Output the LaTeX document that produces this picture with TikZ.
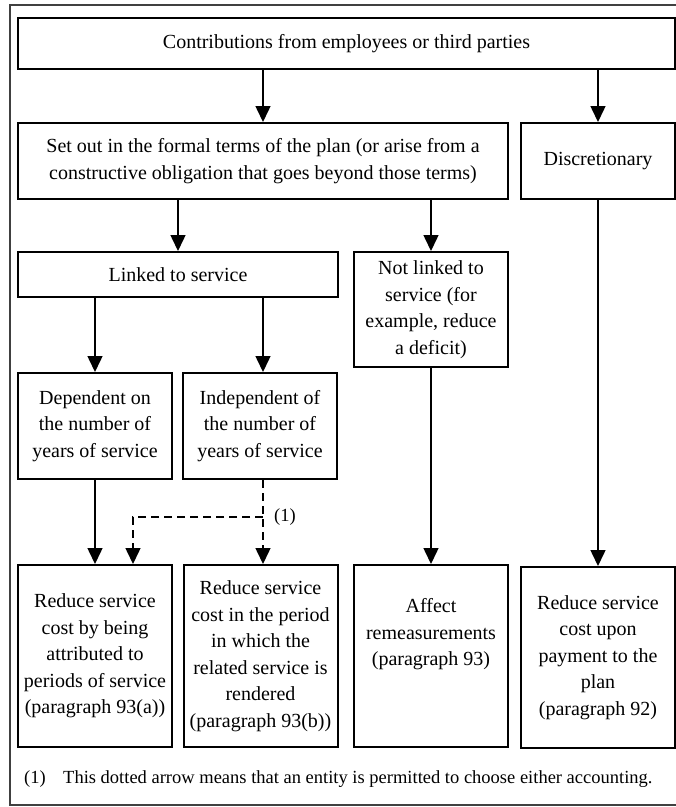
\documentclass[tikz,border=0pt]{standalone}
\usepackage{fontspec}
\setmainfont{Liberation Serif}
\usetikzlibrary{arrows.meta}
\begin{document}
\begin{tikzpicture}[x=1pt,y=-1pt,
  box/.style={draw, line width=2pt, align=center, inner sep=0pt,
    font={\fontsize{20}{26.5}\selectfont}},
  txt/.style={align=center, inner sep=0pt, font={\fontsize{20}{26.5}\selectfont}},
  small/.style={inner sep=0pt, font={\fontsize{18.5}{22}\selectfont}},
  arr/.style={line width=1.5pt, -{Triangle[width=15pt,length=16pt]}},
  dasharr/.style={arr, dash pattern=on 8pt off 5pt},
  frame/.style={line width=1.5pt, draw=black!75}]
\useasboundingbox (0,0) rectangle (676,807);
\draw[frame] (678,5) -- (10,5) -- (10,805) -- (678,805);

\node[box, minimum width=657pt, minimum height=51pt] (top) at (346.5,43.5)
  {Contributions from employees or third parties};
\node[box, minimum width=490pt, minimum height=76pt] (setout) at (263,161)
  {Set out in the formal terms of the plan (or arise from a\\constructive obligation that goes beyond those terms)};
\node[box, minimum width=154pt, minimum height=76pt] (disc) at (598,161)
  {Discretionary};
\node[box, minimum width=320pt, minimum height=45pt] (linked) at (178,274.5)
  {Linked to service};
\node[box, minimum width=154pt, minimum height=115pt] (notlinked) at (431,309.5)
  {Not linked to\\service (for\\example, reduce\\a deficit)};
\node[box, minimum width=154pt, minimum height=106pt] (dep) at (95,426)
  {Dependent on\\the number of\\years of service};
\node[box, minimum width=154pt, minimum height=106pt] (indep) at (260,426)
  {Independent of\\the number of\\years of service};
\node[box, minimum width=154pt, minimum height=182pt] (r1) at (95,656)
  {Reduce service\\cost by being\\attributed to\\periods of service\\(paragraph 93(a))};
\node[box, minimum width=154pt, minimum height=182pt] (r2) at (260.5,656)
  {Reduce service\\cost in the period\\in which the\\related service is\\rendered\\(paragraph 93(b))};
\node[box, minimum width=154pt, minimum height=182pt] (r3) at (431,656) {};
\node[txt] (r3t) at (431,634.5) {Affect\\remeasurements\\(paragraph 93)};
\node[box, minimum width=154pt, minimum height=181pt] (r4) at (598,657.5)
  {Reduce service\\cost upon\\payment to the\\plan\\(paragraph 92)};

\coordinate (cx) at (263,0);
\coordinate (dx) at (133,0);
\coordinate (jn) at (263,517);

\draw[arr] (top.south -| setout.north) -- (setout.north);
\draw[arr] (top.south -| disc.north) -- (disc.north);
\draw[arr] (setout.south -| linked.north) -- (linked.north);
\draw[arr] (setout.south -| notlinked.north) -- (notlinked.north);
\draw[arr] (disc.south) -- (r4.north);
\draw[arr] (linked.south -| dep.north) -- (dep.north);
\draw[arr] (linked.south -| cx) -- (indep.north -| cx);
\draw[arr] (dep.south) -- (r1.north -| dep.south);
\draw[arr] (notlinked.south) -- (r3.north);
\draw[dasharr] (indep.south -| cx) -- (r2.north -| cx);
\draw[dasharr] (jn) -| (r1.north -| dx);
\node[small, anchor=west] (lbl) at (274,517) {(1)};

\node[small, anchor=base west] (fn1) at (24,783) {(1)};
\node[small, anchor=base west] (fn2) at (63,783)
  {This dotted arrow means that an entity is permitted to choose either accounting.};
\end{tikzpicture}
\end{document}
